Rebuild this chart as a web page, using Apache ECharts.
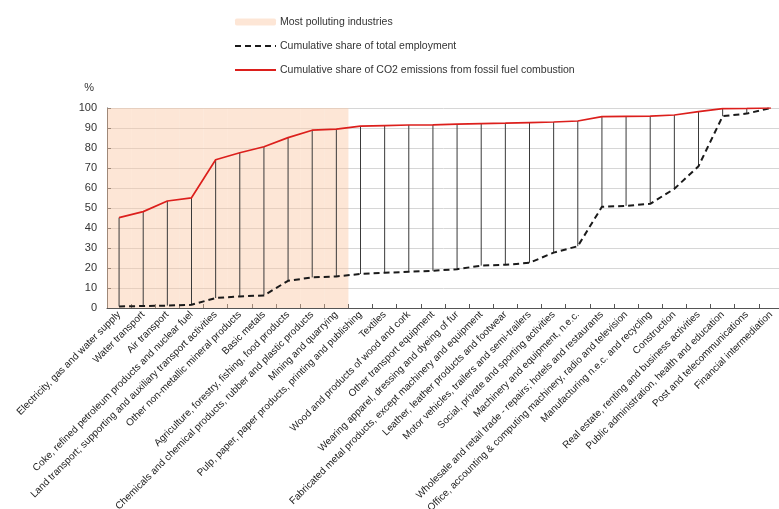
<!DOCTYPE html>
<html>
<head>
<meta charset="utf-8">
<script src="https://cdn.jsdelivr.net/npm/echarts@6/dist/echarts.min.js"></script>
<style>
html,body{margin:0;padding:0;background:#fff;}
#chart{width:779px;height:509px;}
</style>
</head>
<body>
<div id="chart"></div>
<script>
const categories = [
  "Electricity, gas and water supply",
  "Water transport",
  "Air transport",
  "Coke, refined petroleum products and nuclear fuel",
  "Land transport; supporting and auxiliary transport activities",
  "Other non-metallic mineral products",
  "Basic metals",
  "Agriculture, forestry, fishing, food products",
  "Chemicals and chemical products, rubber and plastic products",
  "Mining and quarrying",
  "Pulp, paper, paper products, printing and publishing",
  "Textiles",
  "Wood and products of wood and cork",
  "Other transport equipment",
  "Wearing apparel, dressing and dyeing of fur",
  "Fabricated metal products, except machinery and equipment",
  "Leather, leather products and footwear",
  "Motor vehicles, trailers and semi-trailers",
  "Social, private and sporting activities",
  "Machinery and equipment, n.e.c.",
  "Wholesale and retail trade - repairs; hotels and restaurants",
  "Office, accounting & computing machinery, radio and television",
  "Manufacturing n.e.c. and recycling",
  "Construction",
  "Real estate, renting and business activities",
  "Public administration, health and education",
  "Post and telecommunications",
  "Financial intermediation"
];
const co2Share = [45.2, 48.2, 53.5, 55.1, 74.1, 77.6, 80.6, 85.2, 88.9, 89.4, 90.9, 91.2, 91.5, 91.6, 91.9, 92.2, 92.4, 92.7, 93.0, 93.5, 95.7, 95.8, 95.9, 96.5, 98.2, 99.7, 99.8, 100];
const employmentShare = [0.8, 1.0, 1.2, 1.6, 5.0, 5.8, 6.3, 13.6, 15.3, 15.8, 17.0, 17.6, 18.1, 18.6, 19.4, 21.2, 21.6, 22.6, 27.7, 30.9, 50.6, 51.1, 52.1, 59.6, 70.9, 95.9, 97.2, 100];
const mostPolluting = [1,1,1,1,1,1,1,1,1,1,0,0,0,0,0,0,0,0,0,0,0,0,0,0,0,0,0,0];
const yTicks = [0,10,20,30,40,50,60,70,80,90,100];

const seriesNames = [
  "Most polluting industries",
  "Cumulative share of total employment",
  "Cumulative share of CO2 emissions from fossil fuel combustion"
];

const chart = echarts.init(document.getElementById('chart'), null, {renderer:'canvas'});
const FONT = 'Liberation Sans, Arial, sans-serif';
const hiddenSymbol = {color: 'transparent', borderColor: 'transparent', borderWidth: 0};

chart.setOption({
  animation: false,
  backgroundColor: '#ffffff',
  textStyle: {fontFamily: FONT},
  legend: {
    data: [
      {name: seriesNames[0]},
      {name: seriesNames[1], itemStyle: hiddenSymbol},
      {name: seriesNames[2], itemStyle: hiddenSymbol}
    ],
    orient: 'vertical',
    left: 234,
    top: 15,
    padding: 0,
    itemWidth: 41,
    itemHeight: 7,
    itemGap: 10,
    textStyle: {fontSize: 10.5, lineHeight: 14, color: '#333', fontFamily: FONT, padding: [0,0,0,-1]},
    selectedMode: false
  },
  grid: {left: 107, right: -4, top: 108, bottom: 201, outerBoundsMode: 'none', containLabel: false},
  xAxis: {
    type: 'category',
    data: categories,
    boundaryGap: true,
    axisLine: {lineStyle: {color: '#555', width: 1}},
    axisTick: {show: true, inside: true, length: 4, alignWithLabel: false, lineStyle: {color: '#555'}},
    axisLabel: {interval: 0, rotate: 45, fontSize: 10, color: '#222', margin: 5, fontFamily: FONT},
    splitLine: {show: false}
  },
  yAxis: {
    type: 'value',
    min: yTicks[0],
    max: yTicks[yTicks.length-1],
    interval: yTicks[1]-yTicks[0],
    name: '%',
    nameLocation: 'end',
    nameGap: 15,
    nameTextStyle: {fontSize: 11, color: '#333', align: 'right', padding: [0, 13, 0, 0]},
    axisLine: {show: true, lineStyle: {color: '#555'}},
    axisTick: {show: true, inside: true, length: 4, lineStyle: {color: '#555'}},
    axisLabel: {fontSize: 11, color: '#333', margin: 10},
    splitLine: {show: true, lineStyle: {color: '#d6d6d6', width: 1}}
  },
  series: [
    {
      name: seriesNames[0],
      type: 'bar',
      data: mostPolluting.map(f => f ? yTicks[yTicks.length-1] : '-'),
      barWidth: '100%',
      barGap: '-100%',
      itemStyle: {color: 'rgba(250,200,165,0.45)'},
      z: 1,
      silent: true
    },
    {
      name: 'connectors',
      type: 'custom',
      data: categories.map((c, i) => [i, employmentShare[i], co2Share[i]]),
      renderItem: function (params, api) {
        const p1 = api.coord([api.value(0), api.value(1)]);
        const p2 = api.coord([api.value(0), api.value(2)]);
        return {
          type: 'line',
          shape: {x1: p1[0], y1: p1[1], x2: p2[0], y2: p2[1]},
          style: {stroke: '#3a3a3a', lineWidth: 1}
        };
      },
      z: 2,
      silent: true
    },
    {
      name: seriesNames[1],
      type: 'line',
      data: employmentShare,
      symbol: 'none',
      lineStyle: {color: '#1a1a1a', width: 2, type: [6, 4]},
      itemStyle: {color: '#1a1a1a'},
      z: 3
    },
    {
      name: seriesNames[2],
      type: 'line',
      data: co2Share,
      symbol: 'none',
      lineStyle: {color: '#dc1f1c', width: 1.7},
      itemStyle: {color: '#dc1f1c'},
      z: 4
    }
  ]
});
</script>
</body>
</html>
